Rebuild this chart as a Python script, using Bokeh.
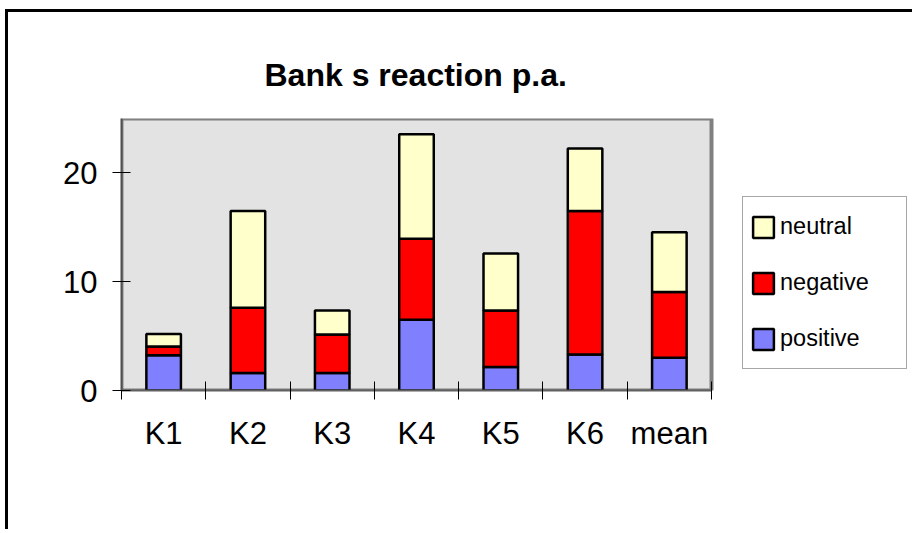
from bokeh.plotting import figure
from bokeh.models import (ColumnDataSource, Range1d, FixedTicker, Legend, LegendItem)
from bokeh.embed import file_html
from bokeh.resources import INLINE

# ---- data ----
title_text = "Bank s reaction p.a."
categories = ["K1", "K2", "K3", "K4", "K5", "K6", "mean"]
positive = [3.25, 1.6, 1.6, 6.5, 2.15, 3.3, 3.0]
negative = [0.8, 6.0, 3.55, 7.45, 5.2, 13.2, 6.05]
neutral = [1.15, 8.9, 2.2, 9.6, 5.25, 5.75, 5.5]
series = ["positive", "negative", "neutral"]
colors = ["#8080FF", "#FF0000", "#FFFFCC"]
y_ticks = [0, 10, 20]
y_max = 25

FONT = "Liberation Sans"

# ---- layout (pixels) ----
W, H = 907, 520
LEFT, TOP = 113, 106
BOTTOM = H - TOP - 272
PLOT_W = 590                      # width of the grey plot area
FRAME_W = W - LEFT                # frame also hosts the legend on the right
n = len(categories)
x_end = n * FRAME_W / PLOT_W

xpos = [i + 0.5 for i in range(n)]
src = ColumnDataSource(dict(x=xpos, positive=positive, negative=negative, neutral=neutral))

p = figure(width=W, height=H, output_backend="svg", toolbar_location=None,
           x_range=Range1d(0, x_end), y_range=Range1d(0, y_max),
           min_border_left=LEFT, min_border_right=0, min_border_top=TOP,
           min_border_bottom=BOTTOM, title=title_text)
p.styles = {"border-left": "3px solid black", "border-top": "3px solid black",
            "margin-left": "5px", "margin-top": "9px"}

p.background_fill_color = "white"
p.border_fill_color = "white"
p.outline_line_color = None
p.xgrid.visible = False
p.ygrid.visible = False

# grey plot area with its border
p.quad(left=[0], right=[n], bottom=[0], top=[y_max], fill_color="#E3E3E3",
       line_color="#808080", line_width=4)

p.title.text_font = FONT
p.title.text_font_size = "32px"
p.title.text_font_style = "bold"
p.title.align = "left"
p.title.offset = 143
p.title.standoff = 52
p.title.text_color = "black"

rs = p.vbar_stack(series, x="x", width=0.41, source=src, fill_color=colors,
                  line_color="black", line_width=2.5)

# x axis: labels at centres, tick marks at category boundaries (minor ticks)
xa = p.xaxis[0]
xa.bounds = (0, n)
xa.ticker = FixedTicker(ticks=xpos, minor_ticks=list(range(n + 1)))
xa.major_label_overrides = {x: c for x, c in zip(xpos, categories)}
xa.major_tick_in = 0
xa.major_tick_out = 0
xa.minor_tick_in = 9
xa.minor_tick_out = 9
xa.minor_tick_line_color = "black"
xa.minor_tick_line_width = 1
xa.major_label_standoff = 16
xa.major_label_text_font = FONT
xa.major_label_text_font_size = "31px"
xa.major_label_text_color = "black"
xa.axis_line_color = "#606060"
xa.axis_line_width = 2

ya = p.yaxis[0]
ya.ticker = FixedTicker(ticks=y_ticks, minor_ticks=[])
ya.major_tick_in = 9
ya.major_tick_out = 9
ya.major_tick_line_color = "black"
ya.major_tick_line_width = 1
ya.major_label_standoff = 15
ya.major_label_text_font = FONT
ya.major_label_text_font_size = "31px"
ya.major_label_text_color = "black"
ya.axis_line_color = "#505050"
ya.axis_line_width = 2

items = [LegendItem(label=series[i], renderers=[rs[i]]) for i in [2, 1, 0]]
legend = Legend(items=items, location=(621, 21), margin=0, padding=7, spacing=11,
                glyph_width=26, glyph_height=26, label_height=45, label_width=119,
                label_standoff=4, label_text_font=FONT, label_text_font_size="23.5px",
                label_text_baseline="bottom", label_text_color="black",
                border_line_color="#505050", border_line_width=1.5,
                background_fill_color="white", background_fill_alpha=1)
p.add_layout(legend)

open("out.html", "w").write(file_html(p, INLINE))
